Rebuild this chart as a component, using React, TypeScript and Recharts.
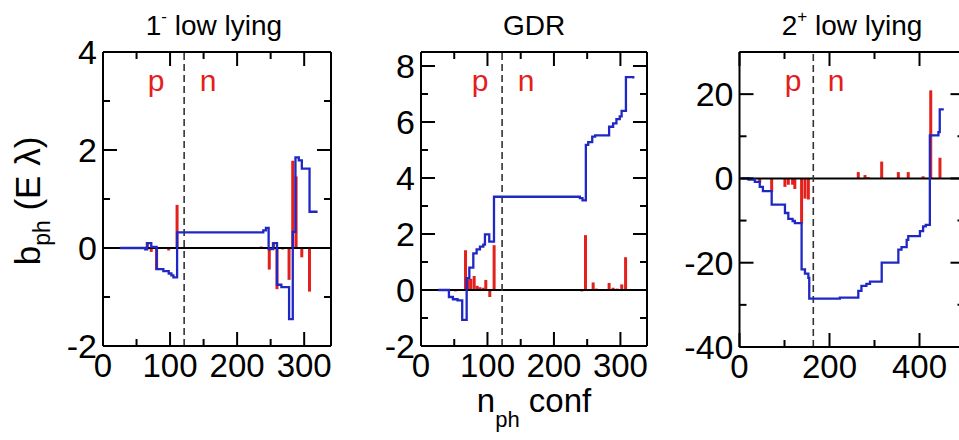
import { ComposedChart, Bar, Line, XAxis, YAxis, ReferenceLine } from "recharts";

// red sticks: [n_ph, b_ph] ; blue steps: running sum
const lowMinusSticks = [
  [66, 0.12], [72, -0.08], [80, -0.45], [98, -0.05], [110.5, 0.88],
  [236, 0.03], [248, -0.44], [254, 0.12], [259.5, -0.84], [268, -0.03],
  [277.5, -0.65], [283, 1.78], [288, 1.46], [296.5, -0.19], [308, -0.89],
];
const lowMinusSteps = [
  [25, 0], [63, -0.03], [66, 0.1], [72, 0.02], [80, -0.43], [90, -0.47],
  [98, -0.52], [102, -0.56], [105, -0.6], [110.5, 0.32], [239, 0.36],
  [243, 0.41], [247, -0.02], [254, 0.1], [259.5, -0.75], [266, -0.8],
  [277.5, -1.45], [283, 0.33], [287, 1.85], [292, 1.79], [296.5, 1.62],
  [308, 0.74], [320, 0.74],
];

const gdrSticks = [
  [52, -0.05], [67, 1.42], [71, 0.38], [75, 0.4], [80, 0.5], [84.5, 0.15],
  [88.5, 0.1], [93.5, 0.08], [97.5, 0.36], [103.5, -0.25], [110, 1.6],
  [242, -0.05], [247.5, 1.96], [259, 0.27], [264, 0.05], [283, 0.25],
  [289, 0.08], [295, 0.05], [302, 0.2], [307.8, 1.17],
];
const gdrSteps = [
  [26, 0], [42, -0.25], [48, -0.33], [55, -0.37], [62, -1.07], [68.7, 0.42],
  [72.7, 0.8], [78.7, 1.31], [83.7, 1.45], [88.7, 1.55], [93.7, 1.62],
  [96.2, 1.99], [102.7, 1.73], [109.8, 3.33], [224, 3.33], [239, 3.28],
  [243, 3.2], [248, 5.18], [251.6, 5.28], [257.6, 5.48], [262, 5.52],
  [283, 5.83], [289, 5.95], [294, 6.1], [299, 6.2], [301.8, 6.4],
  [308.3, 7.6], [319.3, 7.55],
];

const lowPlusSticks = [
  [45, -1], [71.5, -3.2], [101, -2], [108.5, -1.5], [118, -1.5], [123, -2.5],
  [138, -10.7], [145.5, -4.8], [153, -5], [264, 1.5], [279, 0.8], [286, 0.3],
  [316, 4], [353, 1.5], [375, 1.5], [408, 0.5], [425, 20.9], [445.5, 4.9],
];
const lowPlusSteps = [
  [5, 0], [20, -0.3], [34, -0.8], [45, -2], [52, -3], [71.5, -6.2],
  [101, -8.2], [108.5, -9.6], [118, -10.1], [123, -10.6], [138, -21.6],
  [145.5, -22.6], [153, -23.6], [155, -28.5], [223, -28.3], [264, -26.7],
  [271, -25.5], [282, -25], [290, -24.5], [316, -20], [353, -16.9],
  [360, -16.3], [371.5, -14.6], [375, -13.7], [401, -12.5], [408, -11.4],
  [414, -11], [423, 10.2], [442, 11], [445, 16.4], [454, 16.4],
];

const titles = ["1", "GDR", "2"];
const FONT = "'Liberation Sans', Arial, Helvetica, sans-serif";
const RED = "#e3201c";
const BLUE = "#2028c4";

type PanelProps = {
  width: number;
  margin: { top: number; right: number; bottom: number; left: number };
  xDomain: number[];
  xTicks: number[];
  xMajor: number[];
  yDomain: number[];
  yTicks: number[];
  yMajor: number[];
  divider: number;
  sticks: number[][];
  steps: number[][];
};

const frame = { stroke: "#000", strokeWidth: 2 };

// thin stick centred on the bar slot
const Stick = (b: any) => {
  const cx = b.x + b.width / 2;
  const top = Math.min(b.y, b.y + b.height);
  return <rect x={cx - 1.5} y={top} width={3} height={Math.abs(b.height)} fill={RED} />;
};

function Panel(p: PanelProps) {
  const stickRows = p.sticks.map(([x, v]) => ({ x, v }));
  const stepRows = p.steps.map(([x, y]) => ({ x, y }));
  // axes are 1px thick, margins shrink by 1 so the plot box stays put
  const m = { top: p.margin.top - 1, right: p.margin.right - 1, bottom: p.margin.bottom - 1, left: p.margin.left - 1 };

  const bottomTick = (t: any) => {
    const v = t.payload.value;
    const major = p.xMajor.includes(v);
    return (
      <g>
        <line x1={t.x} x2={t.x} y1={t.y} y2={t.y - (major ? 14 : 7)} stroke="#000" strokeWidth={2} />
        {major && (
          <text x={t.x} y={t.y + 31} textAnchor="middle" fontSize={33} fontFamily={FONT} fill="#000">
            {v}
          </text>
        )}
      </g>
    );
  };
  const topTick = (t: any) => {
    const major = p.xMajor.includes(t.payload.value);
    return <line x1={t.x} x2={t.x} y1={t.y} y2={t.y + (major ? 14 : 7)} stroke="#000" strokeWidth={2} />;
  };
  const leftTick = (t: any) => {
    const v = t.payload.value;
    const major = p.yMajor.includes(v);
    return (
      <g>
        <line x1={t.x} x2={t.x + (major ? 14 : 7)} y1={t.y} y2={t.y} stroke="#000" strokeWidth={2} />
        {major && (
          <text x={t.x - 6} y={t.y + 12} textAnchor="end" fontSize={34} fontFamily={FONT} fill="#000">
            {v}
          </text>
        )}
      </g>
    );
  };
  const rightTick = (t: any) => {
    const major = p.yMajor.includes(t.payload.value);
    return <line x1={t.x} x2={t.x - (major ? 14 : 7)} y1={t.y} y2={t.y} stroke="#000" strokeWidth={2} />;
  };

  return (
    <div style={{ position: "absolute", left: 0, top: 0 }}>
      <ComposedChart width={p.width} height={440} data={stickRows} margin={m}>
        <XAxis xAxisId="b" type="number" dataKey="x" domain={p.xDomain} ticks={p.xTicks} interval={0}
          allowDataOverflow height={1} tickSize={0} tickMargin={0} tickLine={false} axisLine={frame} tick={bottomTick} />
        <XAxis xAxisId="t" orientation="top" type="number" dataKey="x" domain={p.xDomain} ticks={p.xTicks} interval={0}
          allowDataOverflow height={1} tickSize={0} tickMargin={0} tickLine={false} axisLine={frame} tick={topTick} />
        <YAxis yAxisId="l" type="number" domain={p.yDomain} ticks={p.yTicks} interval={0}
          allowDataOverflow width={1} tickSize={0} tickMargin={0} tickLine={false} axisLine={frame} tick={leftTick} />
        <YAxis yAxisId="r" orientation="right" type="number" domain={p.yDomain} ticks={p.yTicks} interval={0}
          allowDataOverflow width={1} tickSize={0} tickMargin={0} tickLine={false} axisLine={frame} tick={rightTick} />
        <ReferenceLine xAxisId="b" yAxisId="l" y={0} stroke="#000" strokeWidth={2} />
        <ReferenceLine xAxisId="b" yAxisId="l" x={p.divider} stroke="#333" strokeWidth={1.6} strokeDasharray="7 4" />
        <Bar xAxisId="b" yAxisId="l" dataKey="v" fill={RED} barSize={3} shape={Stick} isAnimationActive={false} />
        <Line xAxisId="b" yAxisId="l" data={stepRows} dataKey="y" type="stepAfter" stroke={BLUE}
          strokeWidth={2.3} dot={false} activeDot={false} isAnimationActive={false} />
      </ComposedChart>
    </div>
  );
}

export default function App() {
  return (
    <div style={{ position: "absolute", left: 0, top: 0, width: 959, height: 440, overflow: "hidden", background: "#fff" }}>
      <Panel width={959} margin={{ top: 52, right: 628, bottom: 94, left: 103 }}
        xDomain={[0, 340]} xTicks={[0, 50, 100, 150, 200, 250, 300]} xMajor={[0, 100, 200, 300]}
        yDomain={[-2, 4]} yTicks={[-2, -1, 0, 1, 2, 3, 4]} yMajor={[-2, 0, 2, 4]}
        divider={121} sticks={lowMinusSticks} steps={lowMinusSteps} />
      <Panel width={959} margin={{ top: 52, right: 312, bottom: 94, left: 421 }}
        xDomain={[0, 340]} xTicks={[0, 50, 100, 150, 200, 250, 300]} xMajor={[0, 100, 200, 300]}
        yDomain={[-2, 8.5]} yTicks={[-2, -1, 0, 1, 2, 3, 4, 5, 6, 7, 8]} yMajor={[-2, 0, 2, 4, 6, 8]}
        divider={122} sticks={gdrSticks} steps={gdrSteps} />
      <Panel width={970} margin={{ top: 52, right: 5.5, bottom: 93, left: 739.5 }}
        xDomain={[0, 500]} xTicks={[0, 100, 200, 300, 400, 500]} xMajor={[0, 200, 400]}
        yDomain={[-40, 30]} yTicks={[-40, -30, -20, -10, 0, 10, 20, 30]} yMajor={[-40, -20, 0, 20]}
        divider={164} sticks={lowPlusSticks} steps={lowPlusSteps} />
      <svg width={959} height={440} style={{ position: "absolute", left: 0, top: 0, pointerEvents: "none" }}>
        <g fontFamily={FONT} fill="#000">
          <text x={214} y={35} textAnchor="middle" fontSize={28}>
            {titles[0]}<tspan fontSize={17} dy={-13}>-</tspan><tspan dy={13}> low lying</tspan>
          </text>
          <text x={534} y={35} textAnchor="middle" fontSize={28}>{titles[1]}</text>
          <text x={852} y={35} textAnchor="middle" fontSize={28}>
            {titles[2]}<tspan fontSize={17} dy={-13}>+</tspan><tspan dy={13}> low lying</tspan>
          </text>
          <text x={534} y={412} textAnchor="middle" fontSize={33}>
            n<tspan fontSize={22} dy={15}>ph</tspan><tspan dy={-15}> conf</tspan>
          </text>
          <text transform="translate(40,201) rotate(-90)" textAnchor="middle" fontSize={35}>
            b<tspan fontSize={23} dy={10}>ph</tspan><tspan dy={-10}> (E λ)</tspan>
          </text>
        </g>
        <g fontFamily={FONT} fill={RED} fontSize={30}>
          <text x={156} y={91} textAnchor="middle">p</text>
          <text x={208} y={91} textAnchor="middle">n</text>
          <text x={480} y={91} textAnchor="middle">p</text>
          <text x={526} y={91} textAnchor="middle">n</text>
          <text x={793} y={91} textAnchor="middle">p</text>
          <text x={836} y={91} textAnchor="middle">n</text>
        </g>
      </svg>
    </div>
  );
}
